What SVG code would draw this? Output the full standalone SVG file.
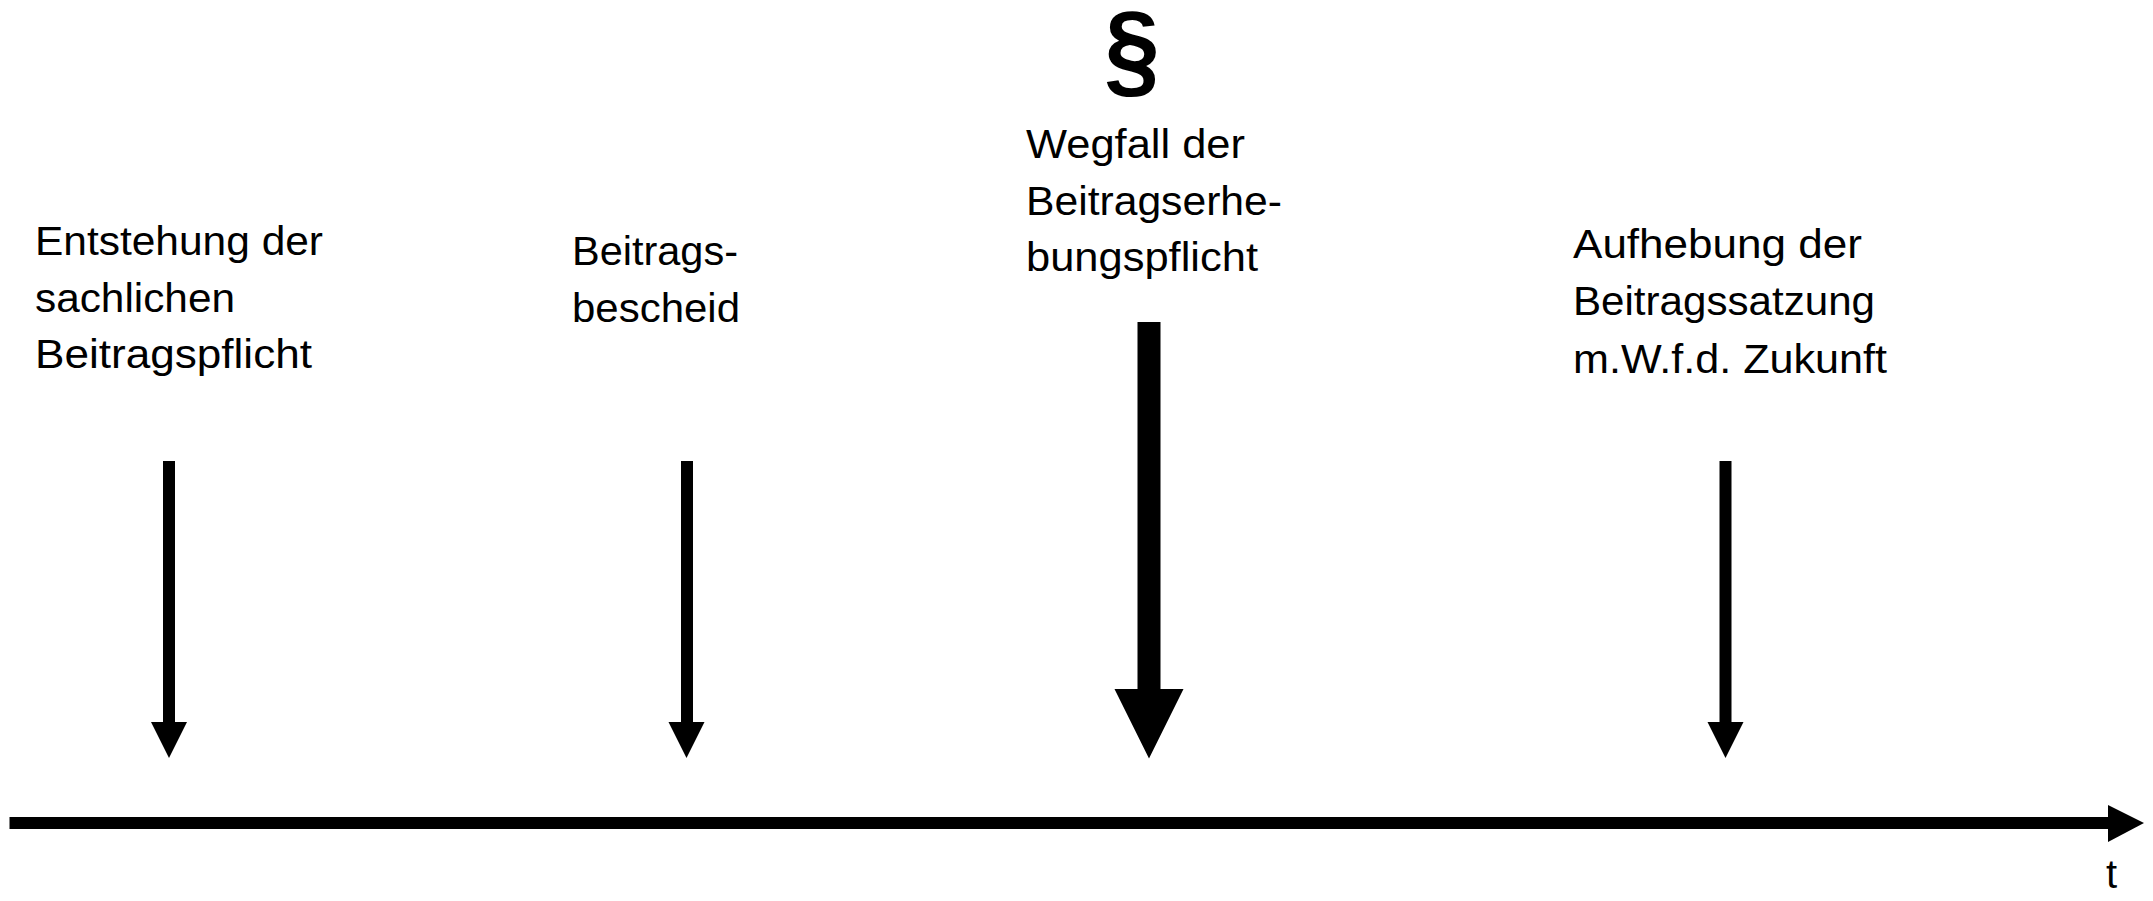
<svg xmlns="http://www.w3.org/2000/svg" width="2153" height="901" viewBox="0 0 2153 901">
  <style>
    .lbl { font-family: "Liberation Sans", Arial, sans-serif; font-size: 40px; fill: #000; }
    .para { font-family: "Liberation Sans", Arial, sans-serif; font-size: 100px; font-weight: bold; fill: #000; }
    .arr { fill: #000; stroke: none; }
  </style>
  <rect width="2153" height="901" fill="#fff"/>
  <g id="connectors">
    <g id="timeline">
      <rect class="arr" x="9.5" y="817" width="2100" height="12"/>
      <polygon class="arr" points="2108,805 2144,823 2108,842"/>
    </g>
    <polygon id="arrow-1" class="arr" points="163,461 175,461 175,722 187,722 169,758 151,722 163,722"/>
    <polygon id="arrow-2" class="arr" points="681,461 693,461 693,722 704.5,722 686.5,758 668.5,722 681,722"/>
    <polygon id="arrow-3" class="arr" points="1137.5,322 1160.5,322 1160.5,689 1183.5,689 1149,758.5 1114.5,689 1137.5,689"/>
    <polygon id="arrow-4" class="arr" points="1719.5,461 1731.5,461 1731.5,722 1743.5,722 1725.5,758 1707.5,722 1719.5,722"/>
  </g>
  <g id="node-entstehung">
    <text class="lbl" x="35" y="255" textLength="288" lengthAdjust="spacingAndGlyphs">Entstehung der</text>
    <text class="lbl" x="35" y="312" textLength="200" lengthAdjust="spacingAndGlyphs">sachlichen</text>
    <text class="lbl" x="35" y="368" textLength="277" lengthAdjust="spacingAndGlyphs">Beitragspflicht</text>
  </g>
  <g id="node-bescheid">
    <text class="lbl" x="572" y="265" textLength="166" lengthAdjust="spacingAndGlyphs">Beitrags-</text>
    <text class="lbl" x="572" y="322" textLength="168" lengthAdjust="spacingAndGlyphs">bescheid</text>
  </g>
  <g id="node-wegfall">
    <text class="para" transform="translate(1132,85) scale(1,1.05)" x="0" y="0" text-anchor="middle">§</text>
    <text class="lbl" x="1026" y="158" textLength="219" lengthAdjust="spacingAndGlyphs">Wegfall der</text>
    <text class="lbl" x="1026" y="215" textLength="256" lengthAdjust="spacingAndGlyphs">Beitragserhe-</text>
    <text class="lbl" x="1026" y="271" textLength="232" lengthAdjust="spacingAndGlyphs">bungspflicht</text>
  </g>
  <g id="node-aufhebung">
    <text class="lbl" x="1573" y="258" textLength="289" lengthAdjust="spacingAndGlyphs">Aufhebung der</text>
    <text class="lbl" x="1573" y="315" textLength="302" lengthAdjust="spacingAndGlyphs">Beitragssatzung</text>
    <text class="lbl" x="1573" y="373" textLength="314" lengthAdjust="spacingAndGlyphs">m.W.f.d. Zukunft</text>
  </g>
  <g id="axis-label">
    <text class="lbl" x="2106" y="888">t</text>
  </g>
</svg>
